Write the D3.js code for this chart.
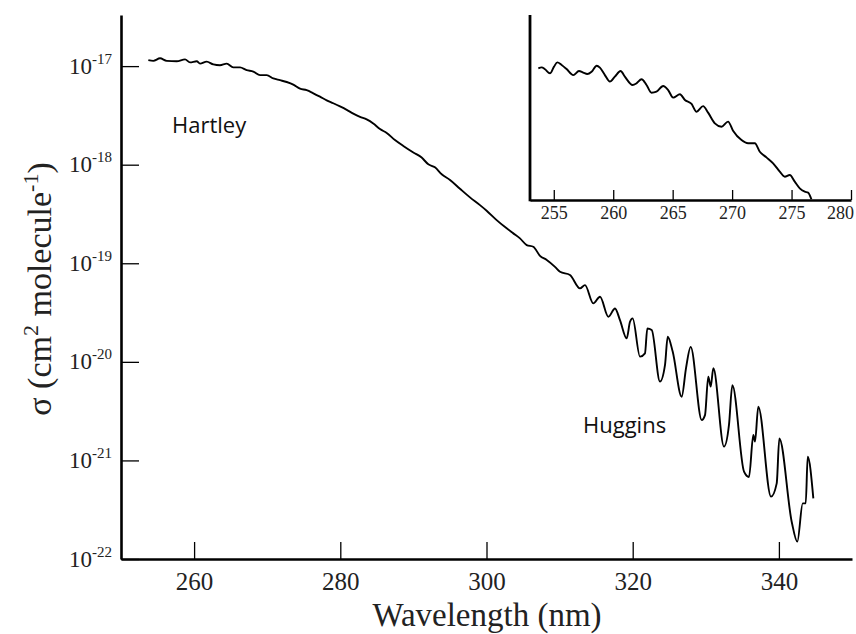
<!DOCTYPE html>
<html>
<head>
<meta charset="utf-8">
<script src="https://cdn.jsdelivr.net/npm/d3@7"></script>
<style>
  html, body { margin: 0; padding: 0; background: #fff; }
  svg { display: block; }
</style>
</head>
<body>
<svg id="chart" width="856" height="634"></svg>
<script>
// ---- Main spectrum data (wavelength nm, cross-section cm^2 molecule^-1) ----
const wavelength = [
  253.74, 254.42, 255.34, 256.25, 257.62, 258.76, 259.44, 260.36, 260.81, 261.72,
  262.63, 263.54, 264.46, 265.36, 266.28, 267.19, 268.10, 269.02, 269.93, 270.84,
  271.75, 272.67, 273.57, 274.49, 275.40, 276.31, 277.22, 278.14, 279.04, 279.96,
  280.88, 281.78, 282.70, 283.61, 284.51, 285.43, 286.35, 287.48, 288.62, 289.99,
  291.13, 292.04, 292.95, 293.87, 295.01, 296.37, 297.74, 299.11, 300.02, 301.39,
  302.76, 303.67, 304.58, 305.50, 306.40, 307.32, 308.24, 309.37, 310.06, 311.42,
  312.79, 313.47, 314.61, 315.53, 316.67, 317.58, 318.26, 319.18, 319.63, 319.99,
  321.00, 321.68, 322.00, 322.60, 323.73, 324.42, 324.79, 325.47, 326.70, 327.29,
  327.93, 329.44, 329.89, 330.34, 330.67, 331.03, 332.49, 333.17, 333.63, 335.23,
  335.91, 336.50, 336.73, 337.18, 338.92, 339.70, 340.06, 341.75, 342.52, 343.26,
  343.67, 343.94, 344.71
];
const crossSection = [
  1.15e-17, 1.13e-17, 1.20e-17, 1.13e-17, 1.12e-17, 1.17e-17, 1.09e-17, 1.12e-17, 1.06e-17, 1.11e-17,
  1.04e-17, 1.02e-17, 1.06e-17, 9.7e-18, 9.7e-18, 9.1e-18, 8.8e-18, 8.1e-18, 8.1e-18, 7.5e-18,
  7.2e-18, 6.9e-18, 6.5e-18, 5.9e-18, 5.7e-18, 5.3e-18, 4.9e-18, 4.5e-18, 4.2e-18, 3.9e-18,
  3.6e-18, 3.3e-18, 3.06e-18, 2.88e-18, 2.62e-18, 2.3e-18, 2.1e-18, 1.78e-18, 1.55e-18, 1.33e-18,
  1.18e-18, 1.01e-18, 9.4e-19, 8.0e-19, 7.0e-19, 5.7e-19, 4.66e-19, 3.89e-19, 3.41e-19, 2.74e-19,
  2.26e-19, 2.01e-19, 1.79e-19, 1.53e-19, 1.47e-19, 1.19e-19, 1.08e-19, 9.2e-20, 8.2e-20, 7.6e-20,
  5.56e-20, 6.0e-20, 3.92e-20, 4.58e-20, 2.87e-20, 3.48e-20, 2.65e-20, 1.73e-20, 2.55e-20, 2.76e-20,
  1.13e-20, 1.22e-20, 2.18e-20, 2.10e-20, 6.3e-21, 9.3e-21, 1.80e-20, 1.27e-20, 4.43e-21, 8.6e-21,
  1.42e-20, 2.57e-21, 2.88e-21, 7.06e-21, 5.6e-21, 8.6e-21, 1.38e-21, 2.29e-21, 5.8e-21, 7.7e-22,
  6.8e-22, 1.81e-21, 1.55e-21, 3.51e-21, 4.29e-22, 5.85e-22, 1.67e-21, 2.39e-22, 1.50e-22, 3.67e-22,
  3.67e-22, 1.09e-21, 4.12e-22
];

// ---- Inset data (wavelength nm, cross-section in units of 1e-17 cm^2) ----
const insetWavelength = [
  253.70, 253.98, 254.26, 254.68, 255.02, 255.30, 255.66, 256.08, 256.64, 257.12,
  257.48, 257.82, 258.18, 258.61, 258.88, 259.30, 259.72, 260.14, 260.62, 260.98,
  261.63, 261.96, 262.38, 262.80, 263.22, 263.64, 264.20, 264.62, 265.04, 265.61,
  266.03, 266.59, 267.01, 267.56, 267.98, 268.55, 269.11, 269.66, 270.08, 270.79,
  271.34, 271.91, 272.33, 272.89, 273.45, 274.01, 274.43, 274.85, 275.27, 275.69,
  276.11, 276.39, 276.67
];
const insetCrossSection = [
  1.097, 1.103, 1.092, 1.069, 1.107, 1.131, 1.116, 1.093, 1.059, 1.082,
  1.073, 1.065, 1.078, 1.112, 1.101, 1.059, 1.022, 1.050, 1.082, 1.050,
  1.003, 1.012, 1.035, 1.003, 0.959, 0.965, 0.997, 0.974, 0.931, 0.950,
  0.918, 0.895, 0.851, 0.883, 0.846, 0.785, 0.766, 0.795, 0.743, 0.690,
  0.672, 0.672, 0.624, 0.592, 0.558, 0.511, 0.482, 0.492, 0.454, 0.416,
  0.397, 0.392, 0.354
];

// ---- Tick values / labels ----
const xTicks = [260, 280, 300, 320, 340];
const yTicks = [1e-22, 1e-21, 1e-20, 1e-19, 1e-18, 1e-17];
const yTickExponents = ["-22", "-21", "-20", "-19", "-18", "-17"];
const insetXTicks = [255, 260, 265, 270, 275, 280];
const bandLabels = ["Hartley", "Huggins"];

const svg = d3.select("#chart");
const serif = "'Liberation Serif', 'Times New Roman', serif";

// ---- Main scales ----
const x = d3.scaleLinear().domain([250, 350]).range([121, 852]);
const y = d3.scaleLog().domain([1e-22, 3.3e-17]).range([559, 15]);

// X axis
const gx = svg.append("g").attr("transform", `translate(0,${y.range()[0]})`)
  .call(d3.axisBottom(x).tickValues(xTicks).tickSize(-17).tickSizeOuter(0).tickPadding(0));
gx.select(".domain").attr("stroke", "#000").attr("stroke-width", 2.6);
gx.selectAll(".tick line").attr("stroke", "#000").attr("stroke-width", 1.3);
gx.selectAll(".tick text").attr("y", 31).attr("dy", null)
  .style("font-family", serif).style("font-size", "25px").attr("fill", "#222");

// Y axis
const gy = svg.append("g").attr("transform", `translate(${x.range()[0]},0)`)
  .call(d3.axisLeft(y).tickValues(yTicks).tickSize(-18).tickSizeOuter(0).tickFormat(""));
gy.select(".domain").attr("stroke", "#000").attr("stroke-width", 2.6);
gy.selectAll(".tick line").attr("stroke", "#000").attr("stroke-width", 1.3);
gy.selectAll(".tick").each(function(d, i) {
  const t = d3.select(this).append("text")
    .attr("x", -9).attr("y", 7)
    .attr("text-anchor", "end").attr("fill", "#222")
    .style("font-family", serif).style("font-size", "23px");
  t.append("tspan").text("10");
  t.append("tspan").attr("dy", -10).style("font-size", "15px").text(yTickExponents[i]);
});

// Axis titles
svg.append("text")
  .attr("x", 487).attr("y", 626).attr("text-anchor", "middle")
  .style("font-family", serif).style("font-size", "33px").attr("fill", "#222")
  .text("Wavelength (nm)");

const yt = svg.append("text")
  .attr("transform", "translate(51,289) rotate(-90)")
  .attr("text-anchor", "middle")
  .style("font-family", serif).style("font-size", "34px").attr("fill", "#222");
yt.append("tspan").text("σ (cm");
yt.append("tspan").attr("dy", -13).style("font-size", "22px").text("2");
yt.append("tspan").attr("dy", 13).text(" molecule");
yt.append("tspan").attr("dy", -13).style("font-size", "22px").text("-1");
yt.append("tspan").attr("dy", 13).text(")");

// Main line
const mainData = wavelength.map((w, i) => [w, crossSection[i]]);
svg.append("path").datum(mainData)
  .attr("fill", "none").attr("stroke", "#000").attr("stroke-width", 1.9)
  .attr("stroke-linejoin", "round")
  .attr("d", d3.line().curve(d3.curveMonotoneX).x(d => x(d[0])).y(d => y(d[1])));

// Band labels
const sans = "'Open Sans', 'Noto Sans', sans-serif";
svg.append("text").attr("x", 172).attr("y", 133)
  .style("font-family", sans).style("font-size", "22px").attr("fill", "#111")
  .text(bandLabels[0]);
svg.append("text").attr("x", 583).attr("y", 433)
  .style("font-family", sans).style("font-size", "22px").attr("fill", "#111")
  .text(bandLabels[1]);

// ---- Inset ----
const xi = d3.scaleLinear().domain([253, 280]).range([530, 851]);
const yi = d3.scaleLinear().domain([0.35, 1.4]).range([200, 15]);

const gxi = svg.append("g").attr("transform", `translate(0,${yi.range()[0]})`)
  .call(d3.axisBottom(xi).tickValues(insetXTicks).tickSize(-10).tickSizeOuter(0).tickPadding(0));
gxi.select(".domain").attr("stroke", "#000").attr("stroke-width", 2.6);
gxi.selectAll(".tick line").attr("stroke", "#000").attr("stroke-width", 1.3);
gxi.selectAll(".tick text").attr("y", 19).attr("dy", null)
  .style("font-family", serif).style("font-size", "18px").attr("fill", "#222")
  .attr("x", d => d === insetXTicks[insetXTicks.length - 1] ? -11 : 0);

svg.append("line")
  .attr("x1", xi.range()[0]).attr("x2", xi.range()[0])
  .attr("y1", yi.range()[0] + 1.3).attr("y2", yi.range()[1])
  .attr("stroke", "#000").attr("stroke-width", 2.8);

const insetData = insetWavelength.map((w, i) => [w, insetCrossSection[i]]);
svg.append("path").datum(insetData)
  .attr("fill", "none").attr("stroke", "#000").attr("stroke-width", 1.9)
  .attr("stroke-linejoin", "round")
  .attr("d", d3.line().curve(d3.curveMonotoneX).x(d => xi(d[0])).y(d => yi(d[1])));
</script>
</body>
</html>
